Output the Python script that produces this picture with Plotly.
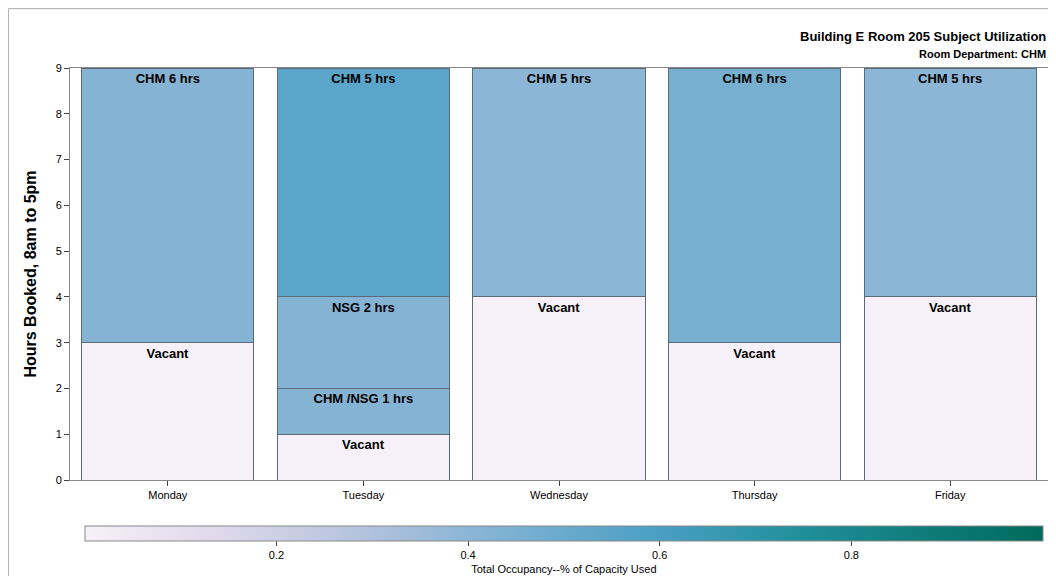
import plotly.graph_objects as go

days = ['Monday', 'Tuesday', 'Wednesday', 'Thursday', 'Friday']
# segments stacked bottom to top for each day: (label, hours, occupancy)
seg_labels = [
    ['Vacant', 'CHM 6 hrs'],
    ['Vacant', 'CHM /NSG 1 hrs', 'NSG 2 hrs', 'CHM 5 hrs'],
    ['Vacant', 'CHM 5 hrs'],
    ['Vacant', 'CHM 6 hrs'],
    ['Vacant', 'CHM 5 hrs'],
]
seg_hours = [[3, 6], [1, 1, 2, 5], [4, 5], [3, 6], [4, 5]]
seg_occ = [[0.0, 0.42], [0.0, 0.42, 0.42, 0.55], [0.0, 0.40], [0.0, 0.46], [0.0, 0.40]]

scale = [[0.0, '#f6f0f8'], [0.15, '#dcd7ea'], [0.3, '#b0c1dd'], [0.45, '#7ab0d2'],
         [0.6, '#4a9fc4'], [0.75, '#1f8f9a'], [1.0, '#006a5c']]

fig = go.Figure()
max_n = max(len(s) for s in seg_labels)
for lvl in range(max_n):
    xs, ys, cs, ts = [], [], [], []
    for i, d in enumerate(days):
        if lvl < len(seg_labels[i]):
            xs.append(d)
            ys.append(seg_hours[i][lvl])
            cs.append(seg_occ[i][lvl])
            ts.append('<b>' + seg_labels[i][lvl] + '</b>')
    fig.add_trace(go.Bar(
        x=xs, y=ys, text=ts, textposition='inside', insidetextanchor='end',
        textangle=0, textfont=dict(color='black', size=13, family='Arial'),
        marker=dict(color=cs, coloraxis='coloraxis',
                    line=dict(color='#5a6a78', width=1)),
        showlegend=False))

fig.update_layout(
    barmode='stack', bargap=0.12,
    width=1056, height=576,
    paper_bgcolor='white', plot_bgcolor='white',
    font=dict(family='Arial', size=12, color='black'),
    margin=dict(l=62, r=16, t=60, b=104, autoexpand=False),
    coloraxis=dict(
        colorscale=scale, cmin=0, cmax=1,
        colorbar=dict(orientation='h', x=0.505, xanchor='center', y=-0.087, yanchor='top',
                      len=1.0, lenmode='fraction', thickness=15,
                      outlinecolor='#888', outlinewidth=1,
                      tickvals=[0.2, 0.4, 0.6, 0.8], ticks='outside',
                      tickfont=dict(size=11),
                      title=dict(text='Total Occupancy--% of Capacity Used', side='bottom',
                                 font=dict(size=11)))),
    xaxis=dict(showline=True, linecolor='#888', mirror=True, ticks='outside',
               tickfont=dict(size=11)),
    yaxis=dict(range=[0, 9], dtick=1, showline=True, linecolor='#888', mirror=True,
               ticks='outside', showgrid=False, tickfont=dict(size=11),
               title=dict(text='<b>Hours Booked, 8am to 5pm</b>', font=dict(size=16))),
    annotations=[
        dict(text='<b>Building E Room 205 Subject Utilization</b>', xref='paper', yref='paper',
             x=1, y=1, xanchor='right', yanchor='bottom', yshift=22, showarrow=False,
             font=dict(size=13)),
        dict(text='<b>Room Department: CHM</b>', xref='paper', yref='paper',
             x=1, y=1, xanchor='right', yanchor='bottom', yshift=6, showarrow=False,
             font=dict(size=11)),
    ],
    shapes=[dict(type='rect', xref='paper', yref='paper', x0=-0.063, x1=1.015,
                 y0=-0.248, y1=1.144, line=dict(color='#aaa', width=1))],
)

fig.write_html('out.html')
